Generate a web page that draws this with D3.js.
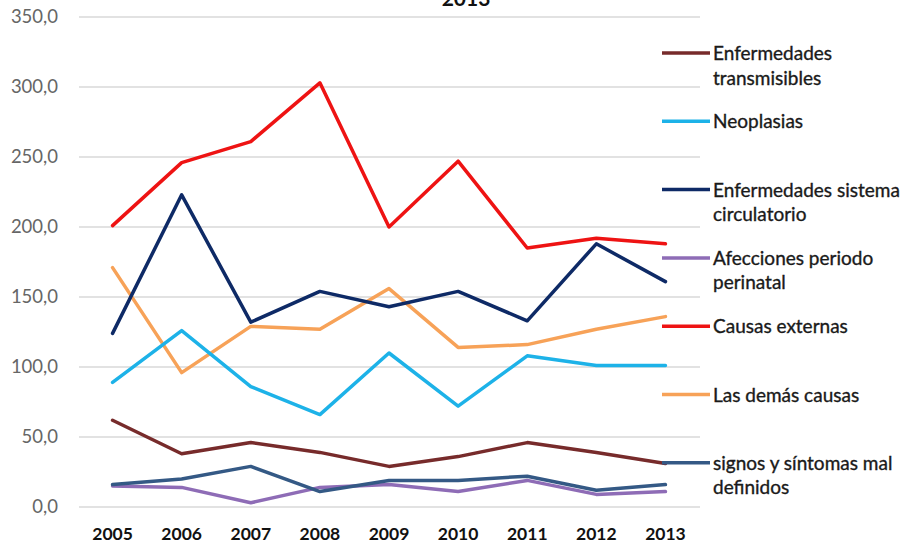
<!DOCTYPE html>
<html><head><meta charset="utf-8">
<script src="https://cdn.jsdelivr.net/npm/d3@7"></script>
<style>body{margin:0;background:#fff}</style>
</head><body>
<svg id="c" width="913" height="546"></svg>
<script>
const years = ["2005","2006","2007","2008","2009","2010","2011","2012","2013"];
const yTicks = [0,50,100,150,200,250,300,350];
const seriesNames = ["Enfermedades transmisibles","Neoplasias","Enfermedades sistema circulatorio","Afecciones periodo perinatal","Causas externas","Las demás causas","signos y síntomas mal definidos"];
const legendLines = [["Enfermedades","transmisibles"],["Neoplasias"],["Enfermedades sistema","circulatorio"],["Afecciones periodo","perinatal"],["Causas externas"],["Las demás causas"],["signos y síntomas mal","definidos"]];
const colors = ["#772b2b","#1db2e8","#0e2a66","#8e6cb6","#ee1313","#f7a258","#345985"];
const transmisibles = [62,38,46,39,29,36,46,39,31];
const neoplasias = [89,126,86,66,110,72,108,101,101];
const circulatorio = [124,223,132,154,143,154,133,188,161];
const perinatal = [15,14,3,14,16,11,19,9,11];
const externas = [201,246,261,303,200,247,185,192,188];
const demas = [171,96,129,127,156,114,116,127,136];
const signos = [16,20,29,11,19,19,22,12,16];
const allSeries = [transmisibles,neoplasias,circulatorio,perinatal,externas,demas,signos];
const drawOrder = [0,5,1,2,4,3,6];

const FONT = "Lato, 'Open Sans', sans-serif";
const svg = d3.select("#c");
const x = d3.scaleBand().domain(years).range([78,700]);
const y = d3.scaleLinear().domain([0,350]).range([507,17]);

svg.append("g").selectAll("line").data(yTicks).join("line")
  .attr("x1",79).attr("x2",700).attr("y1",d=>y(d)).attr("y2",d=>y(d))
  .attr("stroke","#d9d9d9").attr("stroke-width",1.3);

const yAxis = svg.append("g").attr("transform","translate(58,0)")
  .call(d3.axisLeft(y).tickValues(yTicks).tickSize(0).tickPadding(0).tickFormat(d=>d3.format(".1f")(d).replace(".",",")));
yAxis.select(".domain").remove();
yAxis.selectAll("text").attr("font-family",FONT).attr("font-size",18.5).attr("fill","#666");

const xAxis = svg.append("g").attr("transform","translate(0,540)")
  .call(d3.axisBottom(x).tickSize(0).tickPadding(0));
xAxis.select(".domain").remove();
xAxis.selectAll("text").attr("font-family",FONT).attr("font-size",17.5).attr("font-weight","bold").attr("fill","#111").attr("dy","0");

const line = d3.line().x((d,i)=>x(years[i])+x.bandwidth()/2).y(d=>y(d));
drawOrder.forEach(k=>{
  svg.append("path").datum(allSeries[k]).attr("d",line)
    .attr("fill","none").attr("stroke",colors[k]).attr("stroke-width",3.5)
    .attr("stroke-linejoin","round").attr("stroke-linecap","round");
});

const lg = svg.append("g");
seriesNames.forEach((n,i)=>{
  const ly = 53 + i*68.3;
  lg.append("line").attr("x1",662).attr("x2",710).attr("y1",ly).attr("y2",ly)
    .attr("stroke",colors[i]).attr("stroke-width",3.5);
  const t = lg.append("text").attr("x",713).attr("y",ly+7)
    .attr("font-family",FONT).attr("font-size",19).attr("fill","#1a1a1a")
    .attr("stroke","#1a1a1a").attr("stroke-width",0.35);
  legendLines[i].forEach((s,j)=>{
    t.append("tspan").attr("x",713).attr("dy",j===0?0:24.5).text(s);
  });
});

svg.append("text").attr("x",466).attr("y",6).attr("text-anchor","middle")
  .attr("font-family",FONT).attr("font-size",21).attr("font-weight","bold").attr("fill","#111").text("2013");
</script>
</body></html>
